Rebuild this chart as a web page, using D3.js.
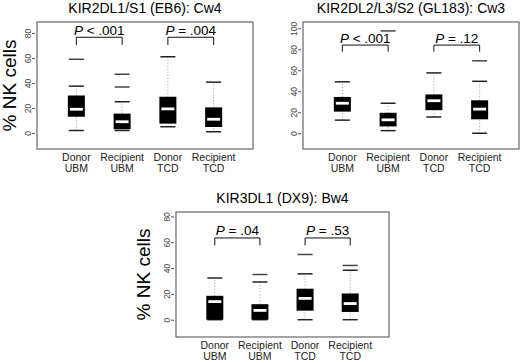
<!DOCTYPE html>
<html lang="en">
<head>
	<meta charset="UTF-8">
	<title>KIR NK cells</title>
	<style>
		body { margin: 0; background: #fff; }
		svg text { font-family: "Liberation Sans", Arial, sans-serif; }
	</style>
</head>
<body>
	<svg id="cont" width="520" height="363"></svg>
</body>
<script src="https://cdn.jsdelivr.net/npm/d3@7"></script>
<script>
	// group labels (two lines each)
	const groupTop = ["Donor", "Recipient", "Donor", "Recipient"];
	const groupBottom = ["UBM", "UBM", "TCD", "TCD"];

	// KIR2DL1/S1 (EB6): Cw4
	const eb6Low = [2, 2, 5, 1];
	const eb6Q1 = [13, 3, 7.5, 4.8];
	const eb6Med = [19, 9, 19.3, 11];
	const eb6Q3 = [30, 15.5, 29, 20.5];
	const eb6High = [37.5, 25, 61, 40.7];
	const eb6Out = [[59], [36.8, 47], [], []];
	const eb6Tests = ["< .001", "= .004"];

	// KIR2DL2/L3/S2 (GL183): Cw3
	const gl183Low = [12.5, 2.5, 15.5, 0];
	const gl183Q1 = [20.6, 6.5, 22, 13.3];
	const gl183Med = [28.6, 12.8, 31, 23];
	const gl183Q3 = [34.6, 19.5, 37, 31.4];
	const gl183High = [49, 28.6, 57.5, 49.5];
	const gl183Out = [[], [97.5], [], [69]];
	const gl183Tests = ["< .001", "= .12"];

	// KIR3DL1 (DX9): Bw4
	const dx9Low = [0, 0, 0, 0];
	const dx9Q1 = [0, 0, 7, 6];
	const dx9Med = [14, 7.2, 16.5, 12.5];
	const dx9Q3 = [18.5, 12, 24, 20.3];
	const dx9High = [32.3, 29.2, 35.5, 38.3];
	const dx9Out = [[], [35], [50.5], [42]];
	const dx9Tests = ["= .04", "= .53"];

	const ticks80 = [0, 20, 40, 60, 80];
	const ticks100 = [0, 20, 40, 60, 80, 100];

	let svg = d3.select("#cont");

	function drawPanel(p)
	{
		let g = svg.append("g");
		let x = d3.scalePoint()
			.domain(d3.range(4))
			.range([p.left, p.right])
			.padding(0.86);
		let y = d3.scaleLinear()
			.domain(p.ydom)
			.range([p.bottom, p.top]);
		let bw = 17;

		// y axis
		let yaxis = d3.axisLeft(y)
			.tickValues(p.ticks)
			.tickSize(3)
			.tickFormat(d3.format("d"));
		let ax = g.append("g")
			.attr("transform", `translate(${p.left - 2},0)`)
			.call(yaxis);
		ax.select(".domain").remove();
		ax.selectAll("line").attr("stroke", "#555");
		ax.selectAll("text")
			.attr("transform", "rotate(-90)")
			.attr("x", 0).attr("y", -4.5).attr("dy", 0)
			.attr("text-anchor", "middle")
			.attr("fill", "#444")
			.style("font-size", "8.5px");

		// whiskers
		for (let [lo, hi] of [[p.low, p.q1], [p.q3, p.high]]) {
			g.selectAll(null).data(d3.range(4)).enter().append("line")
				.attr("x1", i => x(i)).attr("x2", i => x(i))
				.attr("y1", i => y(lo[i])).attr("y2", i => y(hi[i]))
				.attr("stroke", "#9a9a9a")
				.attr("stroke-width", 1)
				.attr("stroke-dasharray", "1,2");
		}
		// caps
		for (let v of [p.low, p.high]) {
			g.selectAll(null).data(d3.range(4)).enter().append("line")
				.attr("x1", i => x(i) - bw / 2 + 1).attr("x2", i => x(i) + bw / 2 - 1)
				.attr("y1", i => y(v[i])).attr("y2", i => y(v[i]))
				.attr("stroke", "#222")
				.attr("stroke-width", 1.5);
		}
		// outliers drawn as dashes
		let outs = [];
		p.out.forEach((arr, i) => arr.forEach(v => outs.push({i: i, v: v})));
		g.selectAll(null).data(outs).enter().append("line")
			.attr("x1", d => x(d.i) - bw / 2 + 1).attr("x2", d => x(d.i) + bw / 2 - 1)
			.attr("y1", d => y(d.v)).attr("y2", d => y(d.v))
			.attr("stroke", "#444")
			.attr("stroke-width", 1.5);
		// boxes
		g.selectAll(null).data(d3.range(4)).enter().append("rect")
			.attr("x", i => x(i) - bw / 2)
			.attr("width", bw)
			.attr("y", i => y(p.q3[i]))
			.attr("height", i => y(p.q1[i]) - y(p.q3[i]))
			.attr("fill", "#000");
		// medians
		g.selectAll(null).data(d3.range(4)).enter().append("line")
			.attr("x1", i => x(i) - bw / 2 + 2).attr("x2", i => x(i) + bw / 2 - 2)
			.attr("y1", i => y(p.med[i])).attr("y2", i => y(p.med[i]))
			.attr("stroke", "#fff")
			.attr("stroke-width", 2.8);

		// test brackets
		[[0, 1], [2, 3]].forEach((pair, k) => {
			let x1 = x(pair[0]), x2 = x(pair[1]);
			let yt = y(p.brTop), yb = y(p.brBottom);
			g.append("path")
				.attr("d", `M${x1},${yb}V${yt}H${x2}V${yb}`)
				.attr("fill", "none")
				.attr("stroke", "#111")
				.attr("stroke-width", 1);
			let t = g.append("text")
				.attr("x", (x1 + x2) / 2)
				.attr("y", yt - 2.5)
				.attr("text-anchor", "middle")
				.style("font-size", "13.5px");
			t.append("tspan").attr("font-style", "italic").text("P");
			t.append("tspan").text(" " + p.tests[k]);
		});

		// frame
		g.append("rect")
			.attr("x", p.left).attr("y", p.top)
			.attr("width", p.right - p.left)
			.attr("height", p.bottom - p.top)
			.attr("fill", "none")
			.attr("stroke", "#666")
			.attr("stroke-width", 1.2);

		// category labels, one text per line
		g.selectAll(null).data(d3.range(4)).enter().append("text")
			.attr("x", i => x(i)).attr("y", p.bottom + 12)
			.attr("text-anchor", "middle")
			.attr("fill", "#222")
			.style("font-size", "10.5px")
			.text(i => groupTop[i]);
		g.selectAll(null).data(d3.range(4)).enter().append("text")
			.attr("x", i => x(i)).attr("y", p.bottom + 23)
			.attr("text-anchor", "middle")
			.attr("fill", "#222")
			.style("font-size", "10.5px")
			.text(i => groupBottom[i]);

		// title
		g.append("text")
			.attr("x", (p.left + p.right) / 2)
			.attr("y", p.top - 9)
			.attr("text-anchor", "middle")
			.style("font-size", "14px")
			.text(p.title);

		if (p.ylabX != null) {
			g.append("text")
				.attr("transform", `translate(${p.ylabX},${(p.top + p.bottom) / 2}) rotate(-90)`)
				.attr("text-anchor", "middle")
				.style("font-size", "19px")
				.text("% NK cells");
		}
	}

	drawPanel({
		title: "KIR2DL1/S1 (EB6): Cw4",
		left: 37, right: 253, top: 22, bottom: 149,
		ydom: [-12.8, 88.8], ticks: ticks80, ylabX: 15.5,
		low: eb6Low, q1: eb6Q1, med: eb6Med, q3: eb6Q3, high: eb6High, out: eb6Out,
		brTop: 76.6, brBottom: 70.4, tests: eb6Tests
	});
	drawPanel({
		title: "KIR2DL2/L3/S2 (GL183): Cw3",
		left: 303, right: 519, top: 22, bottom: 149,
		ydom: [-15, 106], ticks: ticks100, ylabX: null,
		low: gl183Low, q1: gl183Q1, med: gl183Med, q3: gl183Q3, high: gl183High, out: gl183Out,
		brTop: 84, brBottom: 77.7, tests: gl183Tests
	});
	drawPanel({
		title: "KIR3DL1 (DX9): Bw4",
		left: 176, right: 389, top: 212, bottom: 337,
		ydom: [-13.4, 83.4], ticks: ticks80, ylabX: 150,
		low: dx9Low, q1: dx9Q1, med: dx9Med, q3: dx9Q3, high: dx9High, out: dx9Out,
		brTop: 63.3, brBottom: 57.6, tests: dx9Tests
	});
</script>
</html>
